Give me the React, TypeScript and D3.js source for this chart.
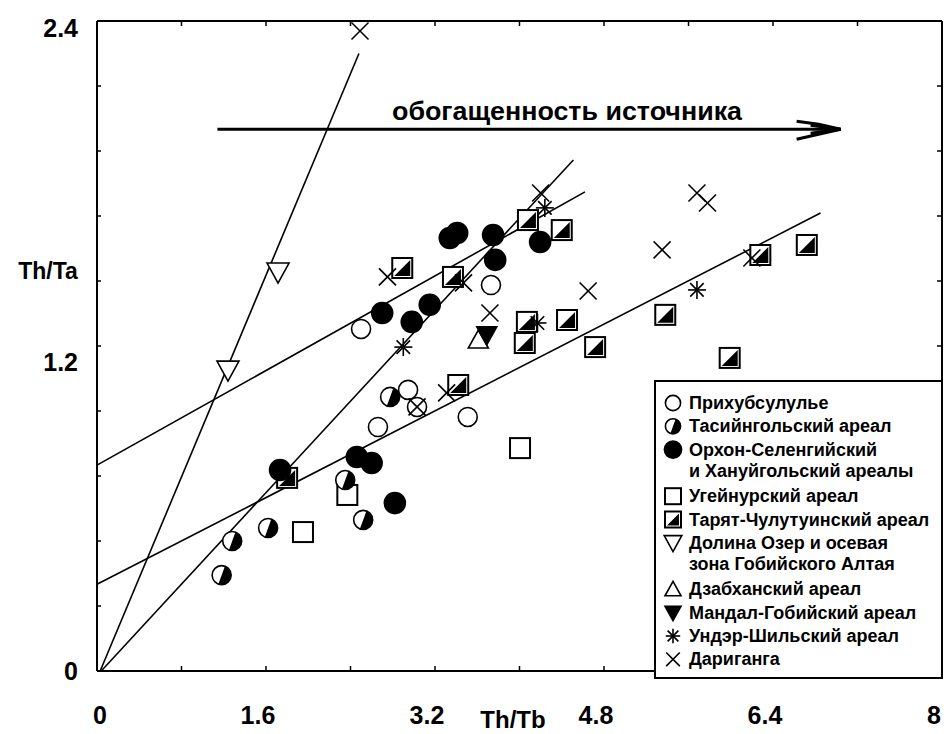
import React from 'react';
import * as d3 from 'd3';

const W = 946;
const H = 734;

// axis ticks
const xTickLabels = [0, 1.6, 3.2, 4.8, 6.4, 8];
const yTickLabels = [0, 1.2, 2.4];
const xMinorStep = 0.8;
const yMinorStep = 0.24;

// data groups [Th/Tb, Th/Ta]
const prikhubsugul = [[2.50, 1.263], [3.73, 1.425], [2.945, 1.038], [3.03, 0.975], [2.66, 0.901], [3.51, 0.938]];
const tasiingol = [[1.18, 0.354], [1.28, 0.480], [1.62, 0.528], [2.35, 0.705], [2.52, 0.558], [2.775, 1.012]];
const orkhon = [[3.34, 1.599], [3.41, 1.617], [3.75, 1.610], [4.195, 1.584], [3.77, 1.518], [3.15, 1.352], [2.98, 1.289], [2.70, 1.322], [1.733, 0.742], [2.46, 0.790], [2.60, 0.768], [2.82, 0.620]];
const ugeinur = [[1.95, 0.513], [2.37, 0.650], [4.005, 0.823]];
const taryat = [[2.89, 1.488], [3.37, 1.455], [4.08, 1.665], [4.40, 1.628], [4.07, 1.289], [4.05, 1.211], [4.45, 1.296], [4.716, 1.196], [5.38, 1.315], [6.28, 1.536], [6.72, 1.573], [5.99, 1.156], [1.80, 0.713], [3.42, 1.056]];
const dolinaOzer = [[1.24, 1.111], [1.714, 1.473]];
const dzabkhan = [[3.61, 1.222]];
const mandalGobi = [[3.69, 1.241]];
const underShil = [[2.90, 1.196], [4.24, 1.710], [4.17, 1.285], [5.68, 1.407]];
const dariganga = [[2.49, 2.363], [2.75, 1.455], [3.47, 1.433], [3.72, 1.322], [4.65, 1.403], [5.35, 1.555], [5.68, 1.765], [5.78, 1.728], [6.20, 1.525], [4.20, 1.765], [3.31, 1.027], [3.03, 0.975]];

// regression lines [x0, y0, x1, y1]
const fitLines = [
  [0.03, 0.0, 2.48, 2.28],
  [0.0, 0.76, 4.62, 1.769],
  [0.04, 0.0, 4.51, 1.887],
  [0.0, 0.32, 6.85, 1.691],
];

// arrow annotation
const arrowX = [1.14, 7.04];
const arrowY = 2.0;
const arrowText = 'обогащенность источника';

const legendItems = [
  { sym: 'circle', lines: ['Прихубсулулье'] },
  { sym: 'halfCircle', lines: ['Тасийнгольский ареал'] },
  { sym: 'filledCircle', lines: ['Орхон-Селенгийский', 'и Хануйгольский ареалы'] },
  { sym: 'square', lines: ['Угейнурский ареал'] },
  { sym: 'halfSquare', lines: ['Тарят-Чулутуинский ареал'] },
  { sym: 'triDown', lines: ['Долина Озер и осевая', 'зона Гобийского Алтая'] },
  { sym: 'triUp', lines: ['Дзабханский ареал'] },
  { sym: 'triDownFilled', lines: ['Мандал-Гобийский ареал'] },
  { sym: 'asterisk', lines: ['Ундэр-Шильский ареал'] },
  { sym: 'cross', lines: ['Дариганга'] },
];

const groups: [string, number[][]][] = [
  ['square', ugeinur],
  ['halfSquare', taryat],
  ['circle', prikhubsugul],
  ['halfCircle', tasiingol],
  ['filledCircle', orkhon],
  ['triDown', dolinaOzer],
  ['triUp', dzabkhan],
  ['triDownFilled', mandalGobi],
  ['asterisk', underShil],
  ['cross', dariganga],
];

const FONT = '"Liberation Sans", Arial, sans-serif';

function Sym({ type, cx, cy, s = 1 }: { type: string; cx: number; cy: number; s?: number }) {
  const sw = 1.6;
  const r = 9.5 * s;
  const h = 10 * s;
  const t = 11 * s;
  switch (type) {
    case 'circle':
      return <circle cx={cx} cy={cy} r={r} fill="#fff" stroke="#000" strokeWidth={sw} />;
    case 'halfCircle': {
      const arc = d3.arc()({ innerRadius: 0, outerRadius: r, startAngle: 0.35, endAngle: 0.35 + Math.PI } as any) as string;
      return (
        <g>
          <circle cx={cx} cy={cy} r={r} fill="#fff" stroke="#000" strokeWidth={sw} />
          <path d={arc} transform={`translate(${cx},${cy})`} fill="#000" />
        </g>
      );
    }
    case 'filledCircle':
      return <circle cx={cx} cy={cy} r={r + 1} fill="#000" stroke="#000" strokeWidth={sw} />;
    case 'square':
      return <rect x={cx - h} y={cy - h} width={2 * h} height={2 * h} fill="#fff" stroke="#000" strokeWidth={sw + 0.4} />;
    case 'halfSquare':
      return (
        <g>
          <rect x={cx - h} y={cy - h} width={2 * h} height={2 * h} fill="#fff" stroke="#000" strokeWidth={sw + 0.4} />
          <path d={`M${cx + h - 2},${cy - h + 2}L${cx + h - 2},${cy + h - 2}L${cx - h + 2},${cy + h - 2}Z`} fill="#000" />
        </g>
      );
    case 'triDown':
      return <path d={`M${cx - t},${cy - 9 * s}L${cx + t},${cy - 9 * s}L${cx},${cy + 11 * s}Z`} fill="#fff" stroke="#000" strokeWidth={sw} />;
    case 'triUp':
      return <path d={`M${cx - h},${cy + 8 * s}L${cx + h},${cy + 8 * s}L${cx},${cy - 10 * s}Z`} fill="#fff" stroke="#000" strokeWidth={sw} />;
    case 'triDownFilled':
      return <path d={`M${cx - h},${cy - 8 * s}L${cx + h},${cy - 8 * s}L${cx},${cy + 10 * s}Z`} fill="#000" stroke="#000" strokeWidth={sw} />;
    case 'asterisk': {
      const a = 9 * s;
      const d = a * 0.75;
      return (
        <g stroke="#000" strokeWidth={sw}>
          <line x1={cx} y1={cy - a} x2={cx} y2={cy + a} />
          <line x1={cx - a} y1={cy} x2={cx + a} y2={cy} />
          <line x1={cx - d} y1={cy - d} x2={cx + d} y2={cy + d} />
          <line x1={cx - d} y1={cy + d} x2={cx + d} y2={cy - d} />
        </g>
      );
    }
    case 'cross': {
      const a = 8.5 * s;
      return (
        <g stroke="#000" strokeWidth={sw}>
          <line x1={cx - a} y1={cy - a} x2={cx + a} y2={cy + a} />
          <line x1={cx - a} y1={cy + a} x2={cx + a} y2={cy - a} />
        </g>
      );
    }
  }
  return null;
}

export default function App() {
  const x = d3.scaleLinear().domain([0, 8]).range([97, 942]);
  const y = d3.scaleLinear().domain([0, 2.4]).range([671, 21]);
  const xMinor = d3.range(0, 8 + 1e-6, xMinorStep);
  const yMinor = d3.range(0, 2.4 + 1e-6, yMinorStep);
  const fmt = (v: number) => (v === 0 ? '0' : v === 8 ? '8' : d3.format('.1f')(v));

  const legend = { x0: 655, y0: 381, x1: 942, y1: 678 };
  let rowY = 403;
  const legendRows: any[] = [];
  legendItems.forEach((it) => {
    legendRows.push({ ...it, y: rowY });
    rowY += 23.3 * it.lines.length;
  });

  const ax = x(arrowX[1]);
  const ay = y(arrowY);

  return (
    <div style={{ position: 'absolute', left: 0, top: 0 }}>
      <svg width={W} height={H} style={{ display: 'block', background: '#fff' }}>
        <rect width={W} height={H} fill="#fff" />
        {/* frame */}
        <g stroke="#000" fill="none">
          <line x1={x(0)} y1={y(0)} x2={x(8)} y2={y(0)} strokeWidth={2} />
          <line x1={x(0)} y1={y(0)} x2={x(0)} y2={y(2.4)} strokeWidth={2} />
          <line x1={x(0)} y1={y(2.4)} x2={x(8)} y2={y(2.4)} strokeWidth={2} />
          <line x1={x(8)} y1={y(0)} x2={x(8)} y2={y(2.4)} strokeWidth={2} />
          {xMinor.map((v, i) => (
            <g key={'xt' + i}>
              <line x1={x(v)} y1={y(0)} x2={x(v)} y2={y(0) - 5} strokeWidth={1.5} />
              <line x1={x(v)} y1={y(2.4)} x2={x(v)} y2={y(2.4) + 5} strokeWidth={1.5} />
            </g>
          ))}
          {yMinor.map((v, i) => (
            <g key={'yt' + i}>
              <line x1={x(0)} y1={y(v)} x2={x(0) + 4} y2={y(v)} strokeWidth={1.5} />
              <line x1={x(8)} y1={y(v)} x2={x(8) - 5} y2={y(v)} strokeWidth={1.5} />
            </g>
          ))}
        </g>
        {/* tick labels */}
        <g fontFamily={FONT} fontWeight="bold" fontSize={25} fill="#000">
          {xTickLabels.map((v) => (
            <text key={'xl' + v} x={x(v) - (v === 0 ? -3 : 8)} y={724} textAnchor="middle">{fmt(v)}</text>
          ))}
          {yTickLabels.map((v) => (
            <text key={'yl' + v} x={78} y={y(v) + (v === 0 ? 9 : v === 1.2 ? 25 : 16)} textAnchor="end">{fmt(v)}</text>
          ))}
          <text x={48} y={279} textAnchor="middle" fontSize={23}>Th/Ta</text>
          <text x={513} y={728} textAnchor="middle" fontSize={24}>Th/Tb</text>
        </g>
        {/* fit lines */}
        <g stroke="#000" strokeWidth={1.6}>
          {fitLines.map((l, i) => (
            <line key={'fl' + i} x1={x(l[0])} y1={y(l[1])} x2={x(l[2])} y2={y(l[3])} />
          ))}
        </g>
        {/* arrow */}
        <g stroke="#000" fill="none">
          <line x1={x(arrowX[0])} y1={ay} x2={ax} y2={ay} strokeWidth={3} />
          <path d={`M${ax - 44},${ay - 8}L${ax - 22},${ay - 5}L${ax},${ay}L${ax - 22},${ay + 5}L${ax - 44},${ay + 10}`} strokeWidth={3} />
          <path d={`M${ax - 30},${ay - 4}L${ax},${ay}L${ax - 30},${ay + 4}`} strokeWidth={3} />
        </g>
        <text x={567} y={120} textAnchor="middle" fontFamily={FONT} fontWeight="bold" fontSize={25} textLength={350} lengthAdjust="spacingAndGlyphs">{arrowText}</text>
        {/* points */}
        {groups.map(([type, pts]) =>
          pts.map((p, i) => <Sym key={type + i} type={type} cx={x(p[0])} cy={y(p[1])} />)
        )}
        {/* legend */}
        <rect x={legend.x0} y={legend.y0} width={legend.x1 - legend.x0} height={legend.y1 - legend.y0} fill="#fff" stroke="#000" strokeWidth={2} />
        {legendRows.map((r, i) => (
          <g key={'lg' + i}>
            <Sym type={r.sym} cx={673} cy={r.y} s={0.8} />
            {r.lines.map((t: string, j: number) => (
              <text key={j} x={689} y={r.y + 6 + j * 21.5} fontFamily={FONT} fontWeight="bold" fontSize={18}>{t}</text>
            ))}
          </g>
        ))}
      </svg>
    </div>
  );
}
